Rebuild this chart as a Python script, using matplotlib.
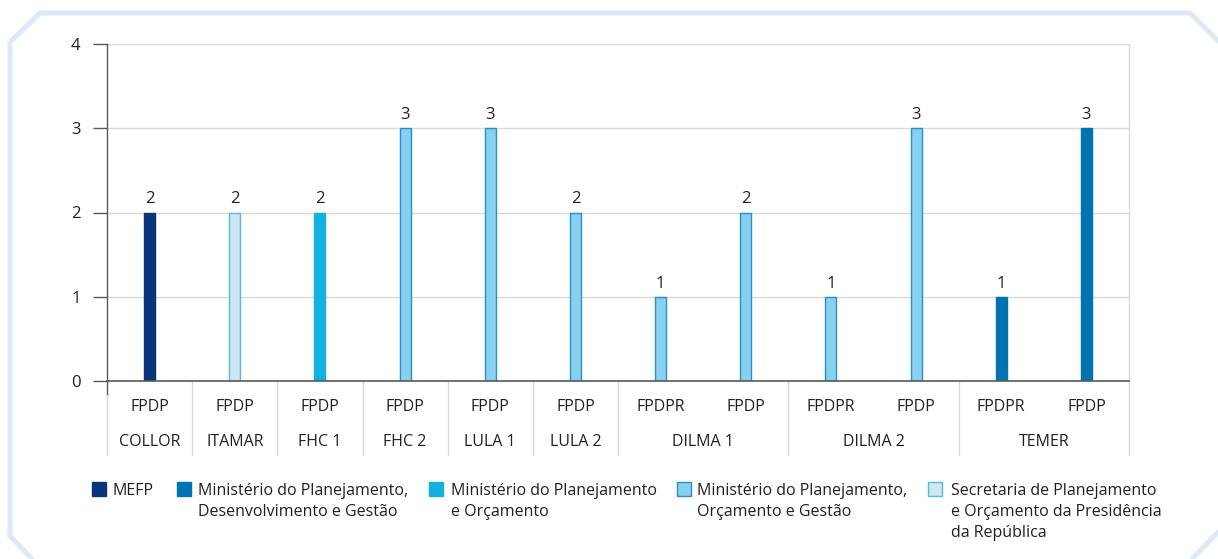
import matplotlib
matplotlib.use("Agg")
import matplotlib.pyplot as plt
from matplotlib.patches import Rectangle, Polygon
from matplotlib.lines import Line2D

plt.rcParams['font.family'] = ['Open Sans', 'DejaVu Sans']

# ---- data ----
governos = ['COLLOR', 'ITAMAR', 'FHC 1', 'FHC 2', 'LULA 1', 'LULA 2', 'DILMA 1', 'DILMA 2', 'TEMER']
governo_tamanho = [1, 1, 1, 1, 1, 1, 2, 2, 2]
planos = ['FPDP', 'FPDP', 'FPDP', 'FPDP', 'FPDP', 'FPDP',
          'FPDPR', 'FPDP', 'FPDPR', 'FPDP', 'FPDPR', 'FPDP']
valores = [2, 2, 2, 3, 3, 2, 1, 2, 1, 3, 1, 3]
orgaos = ['MEFP', 'SEPLAN', 'MPO', 'MPOG', 'MPOG', 'MPOG',
          'MPOG', 'MPOG', 'MPOG', 'MPOG', 'MPDG', 'MPDG']
legenda_chaves = ['MEFP', 'MPDG', 'MPO', 'MPOG', 'SEPLAN']
legenda_textos = ['MEFP',
                  'Ministério do Planejamento,\nDesenvolvimento e Gestão',
                  'Ministério do Planejamento\ne Orçamento',
                  'Ministério do Planejamento,\nOrçamento e Gestão',
                  'Secretaria de Planejamento\ne Orçamento da Presidência\nda República']
y_ticks = [0, 1, 2, 3, 4]

# ---- styles ----
face = {'MEFP': '#0b357b', 'MPDG': '#0073b1', 'MPO': '#13b0e0',
        'MPOG': '#87d0ef', 'SEPLAN': '#cde6f1'}
edge = {'MEFP': '#0b357b', 'MPDG': '#0073b1', 'MPO': '#13b0e0',
        'MPOG': '#2a8fcc', 'SEPLAN': '#55bbe4'}
TXT = '#231f20'
GRID = '#d9d9d9'
AXC = '#595959'

W, H = 1218, 559
fig = plt.figure(figsize=(W / 100, H / 100), dpi=100)

def fx(px):
    return px / W

def fy(py):
    return 1 - py / H

# outer chamfered frame
frame = Polygon([(fx(10), fy(42)), (fx(40), fy(13)), (fx(1190), fy(13)), (fx(1226), fy(49)),
                 (fx(1226), fy(524)), (fx(1189), fy(562)), (fx(35), fy(562)), (fx(10), fy(536))],
                closed=True, fill=False, edgecolor='#dde9f6', linewidth=3.6,
                transform=fig.transFigure, clip_on=False)
fig.patches.append(frame)

ax = fig.add_axes([fx(107), fy(381), fx(1129) - fx(107), fy(44) - fy(381)])
n = len(valores)
ax.set_xlim(0, n)
ax.set_ylim(0, 4)

xs = [i + 0.5 for i in range(n)]
for x, v, o in zip(xs, valores, orgaos):
    ax.bar(x, v, width=0.13, color=face[o], edgecolor=edge[o], linewidth=1.0, zorder=3)
    ax.annotate(str(v), (x, v), xytext=(0, 6.5), textcoords='offset points',
                ha='center', va='baseline', fontsize=12, color=TXT)

ax.set_yticks(y_ticks)
ax.set_yticklabels([str(t) for t in y_ticks], fontsize=12, color=TXT)
ax.tick_params(axis='y', direction='out', length=10, width=1, color=AXC, pad=9)
ax.set_xticks([])
ax.yaxis.grid(True, color=GRID, linewidth=1, zorder=0)
ax.set_axisbelow(True)
ax.spines['top'].set_visible(False)
ax.spines['right'].set_visible(False)
ax.spines['left'].set_color(AXC)
ax.spines['left'].set_linewidth(1)
ax.spines['bottom'].set_color(AXC)
ax.spines['bottom'].set_linewidth(1.2)
ax.spines['bottom'].set_zorder(4)

tr = ax.get_xaxis_transform()
h_ax = 381 - 44
def ay(py):
    return (381 - py) / h_ax

# right border
ax.add_line(Line2D([n, n], [1, ay(455)], transform=tr, color=GRID, lw=1, clip_on=False))
# y-axis extension below
ax.add_line(Line2D([0, 0], [0, ay(395)], transform=tr, color=AXC, lw=1, clip_on=False))
# group separators
bounds = [0]
for g in governo_tamanho:
    bounds.append(bounds[-1] + g)
for b in bounds[:-1]:
    y0 = ay(395) if b == 0 else 0
    ax.add_line(Line2D([b, b], [y0, ay(455)], transform=tr, color=GRID, lw=1, clip_on=False))

# category labels
for x, p in zip(xs, planos):
    ax.text(x, ay(411), p, transform=tr, ha='center', va='baseline', fontsize=11.5, color=TXT)
for i, g in enumerate(governos):
    c = (bounds[i] + bounds[i + 1]) / 2
    ax.text(c, ay(446), g, transform=tr, ha='center', va='baseline', fontsize=11.5, color=TXT)

# legend
sq_x = [92, 177, 429, 677, 928]
tx_x = [113, 198, 451, 697, 951]
for k, txt, sx, tx in zip(legenda_chaves, legenda_textos, sq_x, tx_x):
    fig.patches.append(Rectangle((fx(sx), fy(496)), 14 / W, 14 / H, transform=fig.transFigure,
                                 facecolor=face[k], edgecolor=edge[k], linewidth=1.0))
    for j, line in enumerate(txt.split('\n')):
        fig.text(fx(tx), fy(495 + 21 * j), line, ha='left', va='baseline', fontsize=11.5,
                 color=TXT)

fig.savefig('out.png', dpi=100)
